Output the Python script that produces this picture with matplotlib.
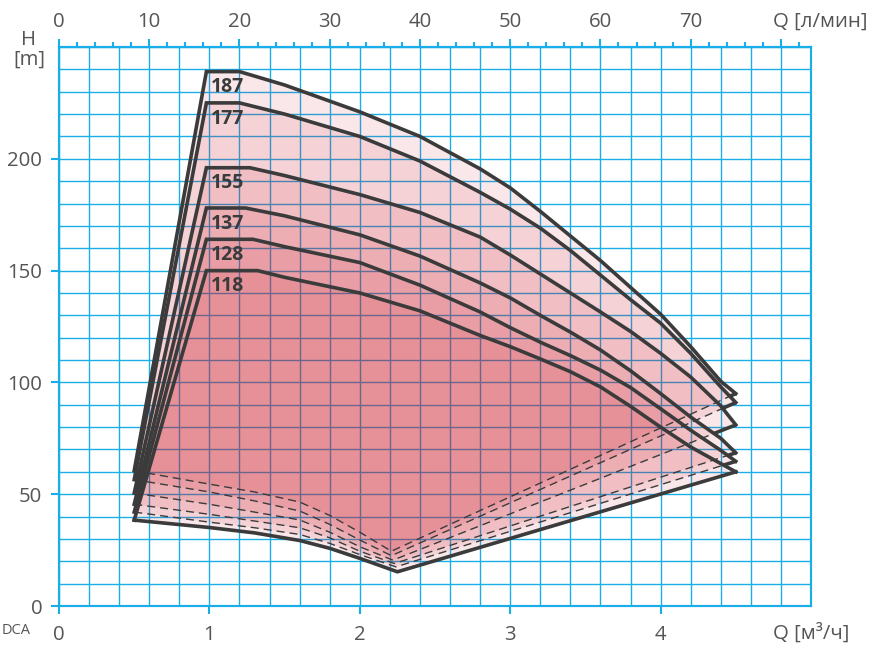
import numpy as np
import matplotlib
matplotlib.use('Agg')
import matplotlib.pyplot as plt

plt.rcParams['font.family'] = ['Open Sans', 'DejaVu Sans']

#### data #####
models = ['187', '177', '155', '137', '128', '118']

# top (H-Q) curves
h_max = [239, 225, 196, 178, 164, 150]
q_corner = 0.98
q_flat = [1.20, 1.20, 1.27, 1.24, 1.29, 1.32]
q_curve = [1.5, 2.0, 2.4, 2.8, 3.0, 3.2, 3.4, 3.6, 3.8, 4.0, 4.2, 4.4, 4.5]
h_curve = [
    [233, 221, 210, 195.5, 187, 176.5, 165.5, 154.5, 142.5, 130.5, 116, 100.5, 95],
    [220, 210, 199, 185, 177.5, 169, 159, 148, 137, 126.5, 113, 98, 91],
    [192.5, 184, 176, 165, 157, 148.5, 140, 131.5, 122.8, 113, 102.4, 89.5, 81],
    [174.5, 166, 156.5, 144.5, 137.8, 130, 122.5, 114.5, 105.2, 95, 84.5, 75, 68.5],
    [160.7, 153.6, 143.5, 131.5, 124.5, 118, 112, 105.5, 97.7, 88.2, 78.6, 69.6, 64.7],
    [147, 140, 132, 121, 116, 110.5, 104.8, 98, 89.3, 80, 71.1, 63.7, 60],
]

# lower limit curves (left end at Q=0.5, minimum near Q=2.2, right end = end of top curve)
q_bottom = [0.5, 1.0, 1.3, 1.6, 1.8, 2.0]
q_min = [2.21, 2.21, 2.22, 2.23, 2.24, 2.25]
h_bottom = [
    [60.5, 54.5, 51.0, 46.5, 40.5, 33.0],
    [56.5, 51.0, 47.0, 42.5, 36.5, 29.5],
    [50.5, 45.5, 42.0, 38.5, 33.0, 26.5],
    [45.5, 41.0, 38.0, 35.0, 30.5, 24.5],
    [42.0, 37.5, 35.0, 32.0, 28.0, 23.0],
    [38.4, 35.1, 32.7, 29.3, 25.8, 21.3],
]
h_min = [24.5, 22.5, 20.5, 19.0, 17.5, 15.3]

#### styles #####
grid_col = '#1aaee8'
line_col = '#3b3b3b'
fill_col = (206 / 255, 25 / 255, 42 / 255)
text_col = '#555555'
fs = 14.7

fig = plt.figure(figsize=(8.69, 6.48), dpi=100)
ax = fig.add_axes([59 / 869, 1 - 606 / 648, (811 - 59) / 869, (606 - 47) / 648])
ax.set_xlim(0, 5)
ax.set_ylim(0, 250)
ax.set_axisbelow(True)

### grid
ax.set_xticks(np.arange(0, 5, 1))
ax.set_xticks(np.arange(0, 5.01, 0.2), minor=True)
ax.set_yticks(np.arange(0, 201, 50))
ax.set_yticks(np.arange(0, 251, 10), minor=True)
ax.grid(True, which='both', color=grid_col, linewidth=1.0)
ax.tick_params(which='minor', length=0)
ax.tick_params(axis='x', which='major', direction='out', length=6, width=1.5,
               color=grid_col, labelcolor=text_col, labelsize=fs, pad=8)
ax.tick_params(axis='y', which='major', direction='out', length=6, width=1.5,
               color=grid_col, labelcolor=text_col, labelsize=fs, pad=6)
for s in ax.spines.values():
    s.set_color(grid_col)
    s.set_linewidth(1.5)

### top axis in l/min
ax2 = ax.twiny()
ax2.set_xlim(0, 5 * 1000 / 60)
ax2.set_xticks(np.arange(0, 81, 10))
ax2.set_xticklabels([str(v) for v in range(0, 71, 10)] + [''])
ax2.set_xticks(np.arange(0, 83, 2), minor=True)
ax2.tick_params(axis='x', which='major', direction='out', length=6, width=1.5,
                color=grid_col, labelcolor=text_col, labelsize=fs, pad=5)
ax2.tick_params(axis='x', which='minor', direction='out', length=3.5, width=1.5,
                color=grid_col)
for s in ax2.spines.values():
    s.set_color(grid_col)
    s.set_linewidth(1.5)

### build curves
tops = []
bottoms = []
for i in range(len(models)):
    qt = [q_corner, q_flat[i]] + q_curve
    ht = [h_max[i], h_max[i]] + h_curve[i]
    qb = q_bottom + [q_min[i], q_curve[-1]]
    hb = h_bottom[i] + [h_min[i], h_curve[i][-1]]
    tops.append((qt, ht))
    bottoms.append((qb, hb))

### fills (stacked translucent areas)
for i in range(len(models)):
    qt, ht = tops[i]
    qb, hb = bottoms[i]
    poly_q = [qb[0]] + qt + qb[::-1]
    poly_h = [hb[0]] + ht + hb[::-1]
    ax.fill(poly_q, poly_h, color=fill_col, alpha=0.1, lw=0, zorder=1)

### lines
for i in range(len(models)):
    qt, ht = tops[i]
    qb, hb = bottoms[i]
    ax.plot([qb[0]] + qt, [hb[0]] + ht, color=line_col, lw=2.6,
            solid_joinstyle='miter', zorder=4)
    if i == len(models) - 1:
        ax.plot(qb, hb, color=line_col, lw=2.6, solid_joinstyle='miter', zorder=4)
    else:
        ax.plot(qb, hb, color=line_col, lw=1.0, linestyle=(0, (5.8, 3.6)), zorder=3)
        # solid part of lower limit where it forms the outer edge
        qq = np.linspace(q_min[i], q_curve[-1], 400)
        b = np.interp(qq, qb, hb)
        t = np.interp(qq, tops[i + 1][0], tops[i + 1][1])
        m = b > t
        ax.plot(qq[m], b[m], color=line_col, lw=2.6, solid_capstyle='butt', zorder=4)
    ax.text(1.01, h_max[i] - 7, models[i], fontsize=14, fontweight='bold',
            color=line_col, ha='left', va='center', zorder=5)

### axis labels
fig.text(29 / 869, 1 - 50 / 648, 'H\n[m]', ha='center', va='center', fontsize=fs,
         color=text_col, linespacing=0.95)
fig.text(773 / 869, 1 - 22 / 648, 'Q [л/мин]', ha='left', va='center', fontsize=fs,
         color=text_col)
fig.text(773 / 869, 1 - 634 / 648, 'Q [м³/ч]', ha='left', va='center', fontsize=fs,
         color=text_col)
fig.text(2 / 869, 1 - 630 / 648, 'DCA', ha='left', va='center', fontsize=10.5,
         color=text_col)

fig.savefig('out.png', dpi=100)
